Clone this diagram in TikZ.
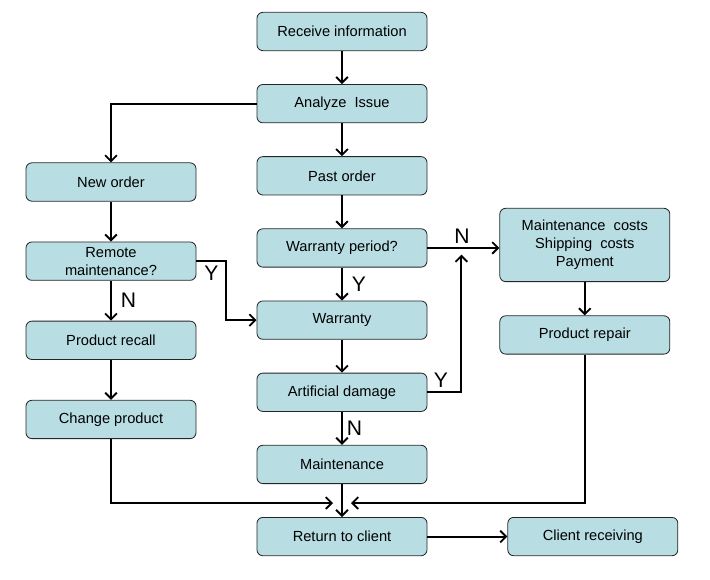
\documentclass[tikz,border=0pt]{standalone}
\usepackage{fontspec}
\setmainfont{Liberation Sans}
\usetikzlibrary{positioning,arrows.meta}
\definecolor{boxfill}{RGB}{184,222,228}

\tikzset{
  stepbox/.style={draw=black!85, fill=boxfill, rounded corners=5pt, line width=0.7pt,
    minimum width=5.1cm, minimum height=1.15cm, align=center, inner sep=2pt,
    font=\fontsize{12.5}{15.5}\selectfont},
  flow/.style={->, line width=1.6pt},
  yn/.style={font=\fontsize{18}{20}\selectfont},
  >={Straight Barb[length=5pt,width=10pt]}
}

\begin{document}
\begin{tikzpicture}[node distance=0.99cm]
      \useasboundingbox (0,0) rectangle (21.3,-17.37);

      % middle column
      \node[stepbox] (receive) at (10.26,-0.945) {Receive information} ;
      \node[stepbox, below=of receive] (analyze) {Analyze\ \ Issue} ;
      \node[stepbox, below=of analyze] (past) {Past order} ;
      \node[stepbox, below=of past] (wperiod) {Warranty period?} ;
      \node[stepbox, below=of wperiod] (warranty) {Warranty} ;
      \node[stepbox, below=of warranty] (damage) {Artificial damage} ;
      \node[stepbox, below=of damage] (maint) {Maintenance} ;
      \node[stepbox, below=of maint] (return) {Return to client} ;
      \node[stepbox, right=2.4 of return] (client) {Client receiving} ;

      % left column
      \node[stepbox] (neworder) at (3.33,-5.46) {New order} ;
      \node[stepbox, below=1.2 of neworder] (remote) {Remote\\maintenance?} ;
      \node[stepbox, below=1.2 of remote] (recall) {Product recall} ;
      \node[stepbox, below=1.2 of recall] (change) {Change product} ;

      % right column
      \node[stepbox, right=2.16 of wperiod, yshift=+0.09cm, minimum height=2.2cm] (costs)
        {Maintenance\ \ costs\\Shipping\ \ costs\\Payment} ;
      \node[stepbox, below=1.0 of costs] (repair) {Product repair} ;

      \coordinate[right=1.02 of damage.east] (ymerge) ;
      \coordinate[above=0.42 of return.north, xshift=-0.27cm] (jl) ;
      \coordinate[above=0.42 of return.north, xshift=+0.27cm] (jr) ;

      \draw[flow] (receive) -- (analyze) ;
      \draw[flow] (analyze) -| (neworder) ;
      \draw[flow] (analyze) -- (past) ;
      \draw[flow] (past) -- (wperiod) ;
      \draw[flow] (wperiod.east) -- (wperiod.east -| costs.west) node[yn, above, pos=0.48] {N} ;
      \draw[flow] (wperiod) -- (warranty) node[yn, right, midway, xshift=0.15cm] {Y} ;
      \draw[flow] (warranty) -- (damage) ;
      \draw[flow] (damage) -- (maint) node[yn, right, midway] {N} ;
      \draw[flow, shorten >=0.2cm] (damage.east) -| (wperiod.east -| ymerge) node[yn, above, pos=0.2] {Y} ;
      \draw[flow] (maint) -- (return) ;
      \draw[flow] (return) -- (client) ;

      \draw[flow] (neworder) -- (remote) ;
      \draw[flow] (remote.east) -- node[yn, below] {Y} ++(0.9,0) |- (warranty.west) ;
      \draw[flow] (remote) -- (recall) node[yn, right, midway, xshift=0.15cm] {N} ;
      \draw[flow] (recall) -- (change) ;
      \draw[flow] (change.south) |- (jl) ;

      \draw[flow] (costs) -- (repair) ;
      \draw[flow] (repair.south) |- (jr) ;
\end{tikzpicture}
\end{document}
